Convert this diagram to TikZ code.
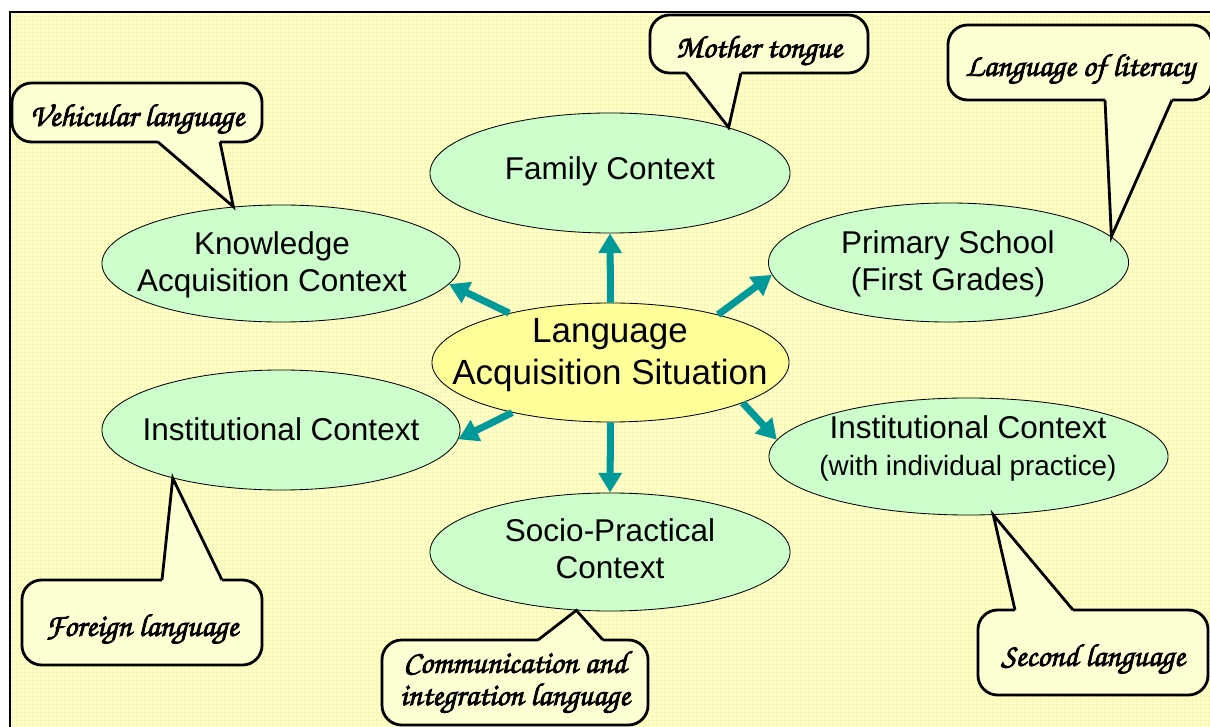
\documentclass[tikz,border=0pt]{standalone}
\usepackage{fontspec}
\setmainfont{Liberation Sans}
\usetikzlibrary{shapes,arrows.meta}
\definecolor{paper}{RGB}{255,255,212}
\definecolor{paperline}{RGB}{250,250,170}
\definecolor{ctxgreen}{RGB}{204,255,204}
\definecolor{sityellow}{RGB}{255,255,153}
\definecolor{arrteal}{RGB}{0,153,153}
\newcommand{\hand}{\fontencoding{T1}\fontfamily{pzc}\fontseries{mb}\fontshape{it}\selectfont\special{pdf:literal direct 2 Tr 0.55 w}}
\newcommand{\tailto}[3]{%
  \fill[paper] (#1) -- (#3) -- (#2) -- cycle;
  \draw[paper,line width=2.8pt] (#1) -- (#2);
  \draw[tail] (#1) -- (#3) -- (#2);}
\tikzstyle{ctx}=[ellipse,draw=black,fill=ctxgreen,inner sep=0pt,line width=0.6pt]
\tikzstyle{ctxtext}=[align=center,font=\fontsize{22.4}{26.3}\selectfont]
\tikzstyle{bubble}=[draw=black,line width=2pt,fill=paper,rounded corners=14pt,align=center,font=\hand\fontsize{22.5}{23}\selectfont]
\tikzstyle{oneline}=[text height=24pt,text depth=5pt]
\tikzstyle{tail}=[line width=2pt,line join=miter]
\tikzstyle{ray}=[draw=arrteal,line width=5pt,-{Triangle[length=14pt,width=16pt]}]

\begin{document}
\begin{tikzpicture}[x=0.025cm,y=-0.025cm]
\useasboundingbox (0,0) rectangle (1210,727);
\clip (0,0) rectangle (1210,727);
\fill[white] (0,0) rectangle (1210,727);
\fill[paper] (10,12) rectangle (1230,740);
\draw[paperline,line width=0.25pt,step=0.1cm] (0.25cm,-0.3cm) grid (30.25cm,-18.2cm);
\draw[line width=1.5pt] (10,12) rectangle (1230,740);

% contexts
\node[ctx,minimum width=9cm,minimum height=3cm] (fam) at (610,173) {};
\node[ctx,minimum width=8.95cm,minimum height=2.925cm] (kac) at (281,263.5) {};
\node[ctx,minimum width=9cm,minimum height=2.975cm] (psc) at (948.5,262.5) {};
\node[ctx,fill=sityellow,minimum width=8.925cm,minimum height=2.975cm] (las) at (610.5,362.5) {};
\node[ctx,minimum width=8.95cm,minimum height=3cm] (ic) at (281,430) {};
\node[ctx,minimum width=9.975cm,minimum height=2.925cm] (irc) at (968.5,456.5) {};
\node[ctx,minimum width=9cm,minimum height=2.95cm] (spc) at (610,552) {};

\node[ctxtext] (famt) at (610,171) {Family Context};
\node[ctxtext] (kact) at (272,265) {Knowledge\\Acquisition Context};
\node[ctxtext] (psct) at (948,264) {Primary School\\(First Grades)};
\node[ctxtext,font=\fontsize{24.9}{30}\selectfont] (last) at (610,355) {Language\\Acquisition Situation};
\node[ctxtext] (ict) at (281,429) {Institutional Context};
\node[ctxtext,font=\fontsize{22.4}{26.3}\selectfont] (irct) at (968,448) {Institutional Context\\{\fontsize{19.8}{24}\selectfont(with individual practice)}};
\node[ctxtext] (spct) at (610,549) {Socio-Practical\\Context};

% arrows out of the centre
\draw[ray] (las.90) -- (fam.270);
\draw[ray] (las.154) -- (kac.-7);
\draw[ray] (las.24) -- (psc.184);
\draw[ray] (las.207) -- (ic.-3);
\draw[ray] (las.-17) -- (irc.175);
\draw[ray] (las.270) -- (spc.90);

% callouts
\node[bubble,oneline,minimum width=6.25cm,minimum height=1.475cm] (veh) at (137,112.5) {Vehicular language};
\node[bubble,oneline,minimum width=5.45cm,minimum height=1.45cm] (mot) at (759,44) {Mother tongue};
\node[bubble,oneline,minimum width=6.6cm,minimum height=1.875cm] (lit) at (1080,62.5) {Language of literacy};
\node[bubble,oneline,minimum width=6cm,minimum height=2.125cm] (for) at (142,622.5) {Foreign language};
\node[bubble,minimum width=6.65cm,minimum height=2.125cm] (com) at (515,682.5) {Communication and\\integration language};
\node[bubble,oneline,minimum width=5.75cm,minimum height=2.125cm] (sec) at (1093,652.5) {Second language};

\coordinate (veh1) at (158,142); \coordinate (veh2) at (220,142);
\coordinate (mot1) at (686,73); \coordinate (mot2) at (741,73);
\coordinate (lit1) at (1105,100); \coordinate (lit2) at (1172,100);
\coordinate (for1) at (162,580); \coordinate (for2) at (222,580);
\coordinate (com1) at (538,640); \coordinate (com2) at (603,640);
\coordinate (sec1) at (1015,610); \coordinate (sec2) at (1073,610);
\tailto{veh1}{veh2}{kac.130}
\tailto{mot1}{mot2}{fam.21}
\tailto{lit1}{lit2}{psc.9}
\tailto{for1}{for2}{ic.204}
\tailto{com1}{com2}{spc.240}
\tailto{sec1}{sec2}{irc.-67}
\end{tikzpicture}
\end{document}
